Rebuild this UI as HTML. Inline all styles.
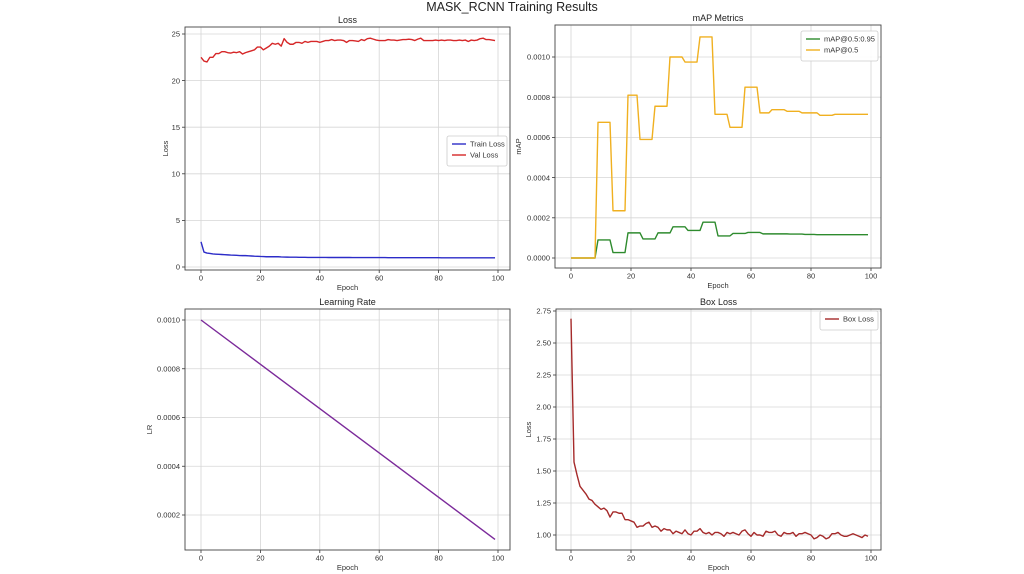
<!DOCTYPE html>
<html><head><meta charset="utf-8"><style>
body{margin:0;background:#fff;}
svg{display:block;font-family:"Liberation Sans","DejaVu Sans",sans-serif;}
</style></head><body>
<svg id="fig" width="1024" height="574" viewBox="0 0 1024 574" xmlns="http://www.w3.org/2000/svg">
<rect width="1024" height="574" fill="#fff"/>
<text x="512" y="11" text-anchor="middle" font-size="12.5" fill="#222">MASK_RCNN Training Results</text>
</svg>
<script>
const epochs = [];
for (let i = 0; i < 100; i++) epochs.push(i);
const valLoss = [22.5,22.1,22.0,22.5,22.5,22.9,22.9,23.1,23.1,23.0,22.95,23.05,23.0,23.1,22.85,23.0,23.1,23.2,23.3,23.6,23.6,23.3,23.5,23.7,24.0,23.9,24.0,23.7,24.5,24.1,23.9,23.9,24.1,24.1,24.0,24.2,24.1,24.2,24.2,24.2,24.1,24.2,24.3,24.3,24.4,24.3,24.35,24.35,24.3,24.1,24.3,24.3,24.25,24.2,24.4,24.3,24.5,24.55,24.45,24.35,24.3,24.3,24.3,24.4,24.35,24.35,24.3,24.35,24.4,24.4,24.45,24.4,24.3,24.45,24.55,24.3,24.3,24.3,24.3,24.35,24.3,24.35,24.3,24.35,24.35,24.3,24.3,24.35,24.3,24.35,24.2,24.35,24.3,24.35,24.5,24.55,24.4,24.4,24.35,24.3];
const trainLoss = [2.7,1.6,1.5,1.45,1.4,1.38,1.36,1.34,1.32,1.3,1.28,1.27,1.25,1.23,1.22,1.22,1.2,1.18,1.16,1.15,1.13,1.12,1.1,1.1,1.1,1.1,1.1,1.08,1.07,1.06,1.05,1.05,1.05,1.04,1.04,1.04,1.03,1.03,1.03,1.03,1.03,1.03,1.03,1.02,1.02,1.02,1.02,1.02,1.02,1.02,1.02,1.01,1.01,1.01,1.01,1.01,1.01,1.01,1.01,1.01,1.01,1.01,1.01,1.0,1.0,1.0,1.0,1.0,1.0,1.0,1.0,1.0,1.0,1.0,1.0,1.0,1.0,1.0,1.0,1.0,1.0,0.99,0.99,0.99,0.99,0.99,0.99,0.99,0.99,0.99,0.99,0.99,0.99,0.99,0.99,0.99,0.99,0.99,0.99,0.99];
const map50 = [0,0,0,0,0,0,0,0,0,0.000675,0.000675,0.000675,0.000675,0.000675,0.000235,0.000235,0.000235,0.000235,0.000235,0.00081,0.00081,0.00081,0.00081,0.00059,0.00059,0.00059,0.00059,0.00059,0.000755,0.000755,0.000755,0.000755,0.000755,0.001,0.001,0.001,0.001,0.001,0.000975,0.000975,0.000975,0.000975,0.000975,0.0011,0.0011,0.0011,0.0011,0.0011,0.000715,0.000715,0.000715,0.000715,0.000715,0.00065,0.00065,0.00065,0.00065,0.00065,0.00085,0.00085,0.00085,0.00085,0.00085,0.000722,0.000722,0.000722,0.000722,0.000738,0.000738,0.000738,0.000738,0.000738,0.00073,0.00073,0.00073,0.00073,0.00073,0.000722,0.000722,0.000722,0.000722,0.000722,0.000722,0.00071,0.00071,0.00071,0.00071,0.00071,0.000715,0.000715,0.000715,0.000715,0.000715,0.000715,0.000715,0.000715,0.000715,0.000715,0.000715,0.000715];
const map5095 = [0,0,0,0,0,0,0,0,0,0.00009,0.00009,0.00009,0.00009,0.00009,0.000027,0.000027,0.000027,0.000027,0.000027,0.000125,0.000125,0.000125,0.000125,0.000125,0.000095,0.000095,0.000095,0.000095,0.000095,0.000125,0.000125,0.000125,0.000125,0.000125,0.000155,0.000155,0.000155,0.000155,0.000155,0.000137,0.000137,0.000137,0.000137,0.000137,0.000178,0.000178,0.000178,0.000178,0.000178,0.00011,0.00011,0.00011,0.00011,0.00011,0.000122,0.000122,0.000122,0.000122,0.000122,0.000127,0.000127,0.000127,0.000127,0.000127,0.00012,0.00012,0.00012,0.00012,0.00012,0.00012,0.00012,0.00012,0.00012,0.000119,0.000119,0.000119,0.000119,0.000119,0.000117,0.000117,0.000117,0.000117,0.000116,0.000116,0.000116,0.000116,0.000116,0.000116,0.000116,0.000116,0.000116,0.000116,0.000116,0.000116,0.000116,0.000116,0.000116,0.000116,0.000116,0.000116];
const lrEpochs = [0,99];
const lrValues = [0.001,0.0001];
const boxLoss = [2.69,1.57,1.47,1.38,1.35,1.32,1.28,1.27,1.24,1.22,1.2,1.21,1.19,1.14,1.18,1.18,1.17,1.17,1.12,1.12,1.11,1.1,1.06,1.07,1.07,1.09,1.1,1.06,1.07,1.06,1.03,1.05,1.04,1.04,1.01,1.03,1.02,1.01,1.04,1.01,1.0,1.03,1.03,1.05,1.02,1.01,1.02,1.0,1.02,1.02,1.01,0.99,1.02,1.01,1.02,1.01,1.0,1.03,1.04,1.01,0.99,1.02,1.0,1.0,0.99,1.03,1.02,1.02,1.03,1.0,0.99,1.02,1.01,1.01,1.02,0.99,1.01,1.01,1.02,1.01,1.0,0.97,0.98,1.0,0.99,0.97,0.98,1.01,1.01,1.02,1.0,0.99,0.99,1.0,1.01,1.0,0.99,0.98,1.0,0.99];
const xTicks = [0,20,40,60,80,100];
const lossTicks = [0,5,10,15,20,25];
const mapTicks = [0,0.0002,0.0004,0.0006,0.0008,0.001];
const mapTickLabels = ["0.0000","0.0002","0.0004","0.0006","0.0008","0.0010"];
const lrTicks = [0.0002,0.0004,0.0006,0.0008,0.001];
const lrTickLabels = ["0.0002","0.0004","0.0006","0.0008","0.0010"];
const boxTicks = [1.0,1.25,1.5,1.75,2.0,2.25,2.5,2.75];
const boxTickLabels = ["1.00","1.25","1.50","1.75","2.00","2.25","2.50","2.75"];

const NS = "http://www.w3.org/2000/svg";
const fig = document.getElementById('fig');
function mk(tag, attrs, parent){const e=document.createElementNS(NS,tag);for(const k in attrs)e.setAttribute(k,attrs[k]);(parent||fig).appendChild(e);return e;}

function panel(cfg){
  const g = mk('g',{});
  
  
  const sx = v => cfg.x0px + (v - 0) * (cfg.x100px - cfg.x0px) / 100;
  const sy = v => cfg.ya[1] + (v - cfg.ya[0]) * (cfg.yb[1] - cfg.ya[1]) / (cfg.yb[0] - cfg.ya[0]);
  xTicks.forEach(t => {
    const l = mk('line',{x1:sx(t),x2:sx(t),y1:cfg.top,y2:cfg.bottom,stroke:'#d6d6d6','stroke-width':0.8},g);
    
    
    mk('line',{x1:sx(t),x2:sx(t),y1:cfg.bottom,y2:cfg.bottom+3,stroke:'#333','stroke-width':0.8},g);
    const tx = mk('text',{x:sx(t),y:cfg.bottom+10.5,'text-anchor':'middle','font-size':7.5,fill:'#333'},g);
    tx.textContent = t;
    
    
  });
  cfg.yTicks.forEach((t,i) => {
    const l = mk('line',{x1:cfg.left,x2:cfg.right,y1:sy(t),y2:sy(t),stroke:'#d6d6d6','stroke-width':0.8},g);
    
    
    mk('line',{x1:cfg.left-3,x2:cfg.left,y1:sy(t),y2:sy(t),stroke:'#333','stroke-width':0.8},g);
    const tx = mk('text',{x:cfg.left-5,y:sy(t)+2.7,'text-anchor':'end','font-size':7.5,fill:'#333'},g);
    tx.textContent = cfg.yLabels[i];
    
    
  });
  cfg.series.forEach(s => {
    const d = s.y.map((v,i)=>(i?'L':'M')+sx(s.x[i]).toFixed(2)+' '+sy(v).toFixed(2)).join(' ');
    const p = mk('path',{d:d,fill:'none',stroke:s.color,'stroke-width':1.4,'stroke-linejoin':'round'},g);
    
    
  });
  const fr = mk('rect',{x:cfg.left,y:cfg.top,width:cfg.right-cfg.left,height:cfg.bottom-cfg.top,fill:'none',stroke:'#444','stroke-width':0.9},g);
  
  
  const ti = mk('text',{x:(cfg.left+cfg.right)/2,y:cfg.top-4,'text-anchor':'middle','font-size':9,fill:'#222'},g);
  ti.textContent = cfg.title;
  
  
  const xl = mk('text',{x:(cfg.left+cfg.right)/2,y:cfg.bottom+20,'text-anchor':'middle','font-size':7.5,fill:'#333'},g);
  xl.textContent = 'Epoch';
  
  
  const ym = (cfg.top+cfg.bottom)/2;
  const yl = mk('text',{x:cfg.yTitleX,y:ym,'text-anchor':'middle','font-size':7.5,fill:'#333',transform:`rotate(-90 ${cfg.yTitleX} ${ym})`},g);
  yl.textContent = cfg.yTitle;
  
  
  if (cfg.legend){
    const L = cfg.legend;
    const lg = mk('g',{},g);
    
    
    mk('rect',{x:L.x,y:L.y,width:L.w,height:8+11*cfg.series.length,rx:2,fill:'#fff','fill-opacity':0.9,stroke:'#ccc','stroke-width':0.8},lg);
    cfg.series.forEach((s,i)=>{
      const yy = L.y+8+11*i;
      mk('line',{x1:L.x+5,x2:L.x+19,y1:yy,y2:yy,stroke:s.color,'stroke-width':1.4},lg);
      const t = mk('text',{x:L.x+23,y:yy+2.7,'font-size':7.5,fill:'#333'},lg);
      t.textContent = s.label;
      
      
    });
  }
}

panel({name:'loss-panel',title:'Loss',left:185,right:510,top:27,bottom:270,x0px:201,x100px:498,
  ya:[0,267],yb:[25,34],yTicks:lossTicks,yLabels:lossTicks.map(String),yTitle:'Loss',yTitleX:168,
  series:[{x:epochs,y:trainLoss,color:'#2c2cc8',label:'Train Loss',dname:'train-loss-line'},
          {x:epochs,y:valLoss,color:'#d62728',label:'Val Loss',dname:'val-loss-line'}],
  legend:{x:447,y:136,w:60}});
panel({name:'map-panel',title:'mAP Metrics',left:555,right:881,top:25,bottom:268,x0px:571,x100px:871,
  ya:[0,258],yb:[0.001,57],yTicks:mapTicks,yLabels:mapTickLabels,yTitle:'mAP',yTitleX:521,
  series:[{x:epochs,y:map5095,color:'#2e8b2e',label:'mAP@0.5:0.95',dname:'map-50-95-line'},
          {x:epochs,y:map50,color:'#f0b020',label:'mAP@0.5',dname:'map-50-line'}],
  legend:{x:801,y:31,w:77}});
panel({name:'lr-panel',title:'Learning Rate',left:185,right:510,top:309,bottom:550,x0px:201,x100px:498,
  ya:[0.0002,515],yb:[0.001,320],yTicks:lrTicks,yLabels:lrTickLabels,yTitle:'LR',yTitleX:152,
  series:[{x:lrEpochs,y:lrValues,color:'#7b2a9a',label:'LR',dname:'learning-rate-line'}]});
panel({name:'box-loss-panel',title:'Box Loss',left:556,right:881,top:309,bottom:550,x0px:571,x100px:871,
  ya:[1.0,535],yb:[2.75,311],yTicks:boxTicks,yLabels:boxTickLabels,yTitle:'Loss',yTitleX:531,
  series:[{x:epochs,y:boxLoss,color:'#a52a2a',label:'Box Loss',dname:'box-loss-line'}],
  legend:{x:820,y:311,w:58}});
</script>
</body></html>
